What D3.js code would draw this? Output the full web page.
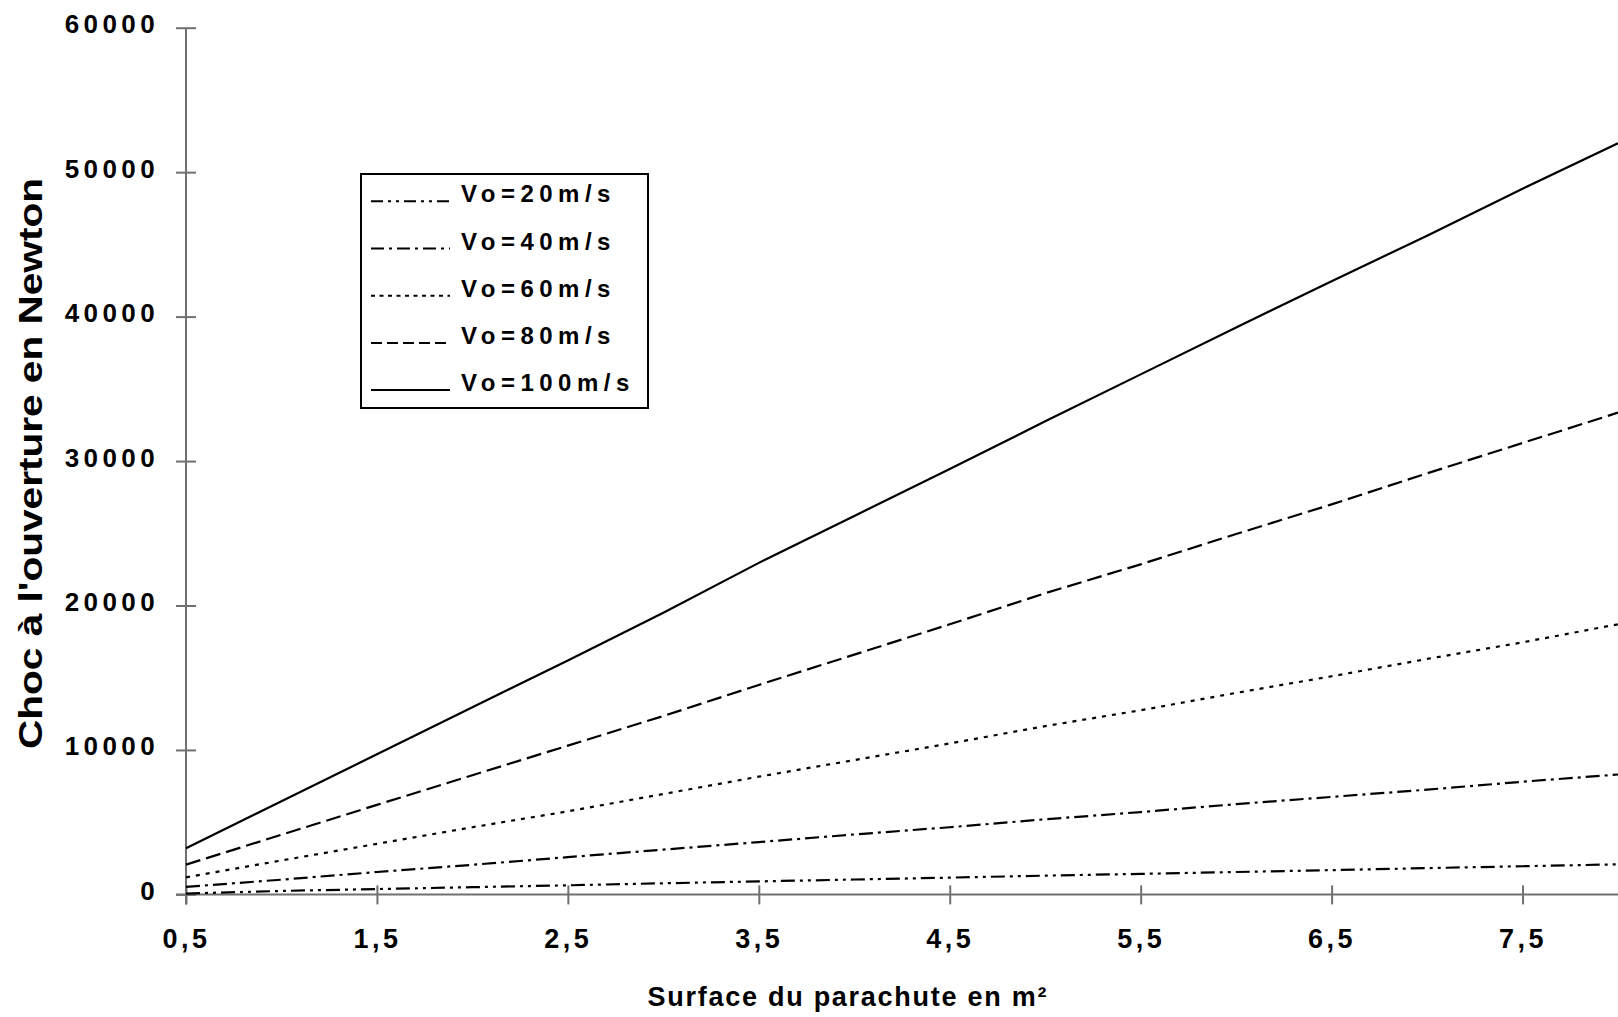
<!DOCTYPE html>
<html>
<head>
<meta charset="utf-8">
<script src="https://cdn.jsdelivr.net/npm/d3@7"></script>
<style>
  body { margin: 0; background: #fff; }
  text { font-family: "Liberation Sans", Arial, sans-serif; font-weight: bold; fill: #000; }
</style>
</head>
<body>
<div id="chart"></div>
<script>
// surface du parachute (m²)
var surfaces = [0.5, 1, 1.5, 2, 2.5, 3, 3.5, 4, 4.5, 5, 5.5, 6, 6.5, 7, 7.5, 8];

// choc à l'ouverture (N)
var v20  = [60, 240, 370, 500, 630, 770, 900, 1030, 1160, 1300, 1420, 1550, 1680, 1820, 1950, 2080];
var v40  = [520, 1020, 1550, 2050, 2580, 3100, 3620, 4150, 4650, 5200, 5700, 6250, 6750, 7250, 7800, 8300];
var v60  = [1180, 2350, 3500, 4650, 5750, 6950, 8150, 9300, 10450, 11650, 12750, 13950, 15100, 16300, 17450, 18700];
var v80  = [2060, 4130, 6200, 8250, 10300, 12350, 14500, 16600, 18700, 20850, 22850, 24950, 27000, 29150, 31250, 33350];
var v100 = [3200, 6450, 9700, 12950, 16200, 19500, 22950, 26200, 29450, 32750, 36000, 39250, 42450, 45600, 48850, 52000];

var seriesNames = ["Vo=20m/s", "Vo=40m/s", "Vo=60m/s", "Vo=80m/s", "Vo=100m/s"];
var seriesValues = [v20, v40, v60, v80, v100];
var dashes = ["14,5,3,5,3,5", "14,5,3,5", "4,6", "15,6", null];
var legendDashes = ["12,5,3,5,3,5", "13,5,3,5", "4,4.5", "11,5", null];

var xTicks = [0.5, 1.5, 2.5, 3.5, 4.5, 5.5, 6.5, 7.5];
var xTickLabels = ["0,5", "1,5", "2,5", "3,5", "4,5", "5,5", "6,5", "7,5"];
var yTicks = [0, 10000, 20000, 30000, 40000, 50000, 60000];

var width = 1618,
    height = 1017;

var x = d3.scaleLinear().domain([0.5, 8]).range([186, 1618]);
var y = d3.scaleLinear().domain([0, 60000]).range([894.4, 27.7]);

var svg = d3.select("#chart").append("svg")
  .attr("width", width)
  .attr("height", height);

svg.append("rect").attr("width", width).attr("height", height).attr("fill", "#fff");

// axe X
var xAxis = svg.append("g")
  .attr("transform", "translate(0," + y(0) + ")")
  .call(d3.axisBottom(x).tickValues(xTicks).tickSize(0)
    .tickFormat(function(d, i) { return xTickLabels[i]; }));
xAxis.select(".domain").attr("stroke", "#707070").attr("stroke-width", 2).attr("d", "M176,0H1618");
xAxis.selectAll(".tick line").attr("stroke", "#707070").attr("stroke-width", 2).attr("y1", -9).attr("y2", 10);
xAxis.selectAll(".tick text")
  .attr("y", 54).attr("dy", 0)
  .style("font-size", "27px")
  .style("letter-spacing", "3.5px")
  .attr("font-family", null);

// axe Y
var yAxis = svg.append("g")
  .attr("transform", "translate(" + x(0.5) + ",0)")
  .call(d3.axisLeft(y).tickValues(yTicks).tickSize(0).tickFormat(d3.format("d")));
yAxis.select(".domain").attr("stroke", "#707070").attr("stroke-width", 2)
  .attr("d", "M0," + y(60000) + "V" + (y(0) + 10));
yAxis.selectAll(".tick line").attr("stroke", "#707070").attr("stroke-width", 2).attr("x1", -10).attr("x2", 10);
yAxis.selectAll(".tick text")
  .attr("x", -27).attr("dy", 5)
  .style("font-size", "26px")
  .style("letter-spacing", "4.4px")
  .attr("font-family", null);

// courbes
var line = d3.line()
  .x(function(d, i) { return x(surfaces[i]); })
  .y(function(d) { return y(d); });

seriesValues.forEach(function(vals, i) {
  svg.append("path")
    .attr("d", line(vals))
    .attr("fill", "none")
    .attr("stroke", "#000")
    .attr("stroke-width", 2.2)
    .attr("stroke-dasharray", dashes[i]);
});

// légende
var legend = svg.append("g");
legend.append("rect")
  .attr("x", 361).attr("y", 174)
  .attr("width", 287).attr("height", 234)
  .attr("fill", "#fff").attr("stroke", "#000").attr("stroke-width", 2);

seriesNames.forEach(function(name, i) {
  var by = 202.3 + i * 47.2;
  legend.append("line")
    .attr("x1", 371).attr("x2", 450)
    .attr("y1", by - 1).attr("y2", by - 1)
    .attr("stroke", "#000").attr("stroke-width", 2)
    .attr("stroke-dasharray", legendDashes[i]);
  legend.append("text")
    .attr("x", 461).attr("y", by)
    .style("font-size", "24px")
    .style("letter-spacing", "5.5px")
    .text(name);
});

// titres
svg.append("text")
  .attr("x", 847).attr("y", 1006)
  .attr("text-anchor", "middle")
  .style("font-size", "27px")
  .attr("textLength", 399)
  .attr("lengthAdjust", "spacing")
  .text("Surface du parachute en m²");

svg.append("text")
  .attr("transform", "translate(42,463.5) rotate(-90)")
  .attr("text-anchor", "middle")
  .style("font-size", "34px")
  .attr("textLength", 571)
  .attr("lengthAdjust", "spacingAndGlyphs")
  .text("Choc à l'ouverture en Newton");
</script>
</body>
</html>
